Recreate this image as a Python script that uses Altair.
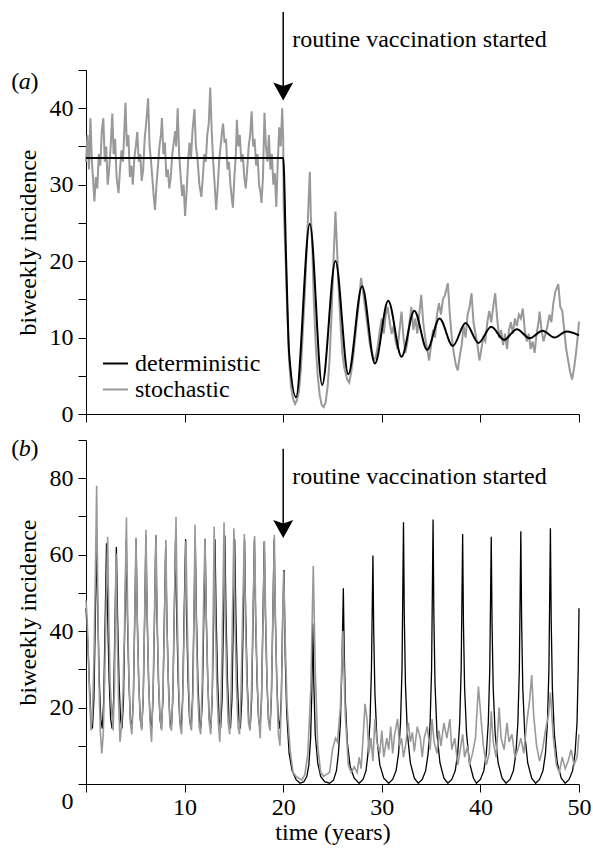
import altair as alt
import pandas as pd

FONT = "Liberation Serif"
FS = 24
PW, PH = 493, 344

X_TICKS = [0, 10, 20, 30, 40, 50]
YA_TICKS = [0, 5, 10, 15, 20, 25, 30, 35, 40, 45]
YB_TICKS = [0, 10, 20, 30, 40, 50, 60, 70, 80, 90]
SERIES = ["deterministic", "stochastic"]
COLORS = ["#000000", "#999999"]
VACC_YEAR = 20
ANNOT = "routine vaccination started"

# panel (a) deterministic (time, biweekly incidence)
A_DET = [(0, 33.5), (10, 33.5), (20, 33.5), (20.3, 20), (20.6, 8), (21.3, 2.2), (22.7, 24.9),
         (23.95, 3.8), (25.3, 20.0), (26.6, 5.2), (28.0, 16.7), (29.3, 6.6), (30.65, 14.8),
         (32.0, 7.5), (33.3, 13.5), (34.6, 8.4), (35.85, 12.5), (37.2, 8.9), (38.5, 11.9),
         (39.8, 9.3), (41.1, 11.4), (42.4, 9.7), (43.7, 11.1), (45.0, 9.9), (46.3, 10.9),
         (47.5, 10.0), (48.75, 10.8), (50, 10.3)]

# panel (a) stochastic
A_STO = [(0.0, 33), (0.15, 36.5), (0.3, 32), (0.45, 38.7), (0.6, 33), (0.75, 30), (0.85, 27.8),
         (1.0, 31), (1.15, 29.5), (1.3, 34), (1.45, 32.5), (1.6, 37), (1.76, 38.7), (1.9, 33),
         (2.05, 35), (2.2, 30), (2.35, 32), (2.5, 35), (2.67, 39.3), (2.8, 34), (2.95, 36),
         (3.1, 31), (3.3, 28.9), (3.45, 32), (3.6, 34.5), (3.75, 33), (3.9, 37.5), (4.0, 40.7),
         (4.15, 35), (4.3, 36.5), (4.45, 31), (4.6, 32.5), (4.75, 30), (4.9, 33.5), (5.05, 35),
         (5.2, 36.9), (5.35, 33), (5.5, 34), (5.65, 30.5), (5.8, 32), (5.95, 36), (6.1, 38),
         (6.3, 41.3), (6.45, 35), (6.6, 33), (6.75, 30.5), (6.9, 28), (7.0, 26.7), (7.15, 30),
         (7.3, 32.5), (7.45, 35), (7.6, 36.5), (7.7, 38.7), (7.85, 34), (8.0, 35.5), (8.15, 31),
         (8.3, 32), (8.45, 29.5), (8.6, 31), (8.75, 34), (8.9, 35.5), (9.05, 37), (9.15, 35),
         (9.3, 40), (9.45, 34), (9.6, 31), (9.75, 28.5), (9.9, 30), (10.05, 25.9), (10.2, 29),
         (10.35, 33), (10.5, 35.5), (10.65, 33.5), (10.8, 37), (11.0, 39.9), (11.15, 35),
         (11.3, 33.5), (11.5, 30), (11.7, 28.4), (11.85, 31), (12.0, 34), (12.15, 33),
         (12.3, 36.5), (12.45, 38), (12.6, 42.7), (12.75, 37), (12.9, 33), (13.05, 30),
         (13.2, 26.7), (13.35, 29.5), (13.5, 33), (13.65, 35), (13.8, 37), (13.9, 38),
         (14.05, 35.5), (14.2, 36), (14.35, 32), (14.5, 33), (14.65, 30), (14.8, 28), (14.9, 27),
         (15.05, 31), (15.2, 34), (15.3, 38.5), (15.45, 35), (15.6, 36.5), (15.75, 33),
         (15.9, 34), (16.05, 31), (16.2, 29.5), (16.35, 32), (16.5, 35), (16.65, 36.5),
         (16.8, 39.6), (16.95, 35), (17.1, 36), (17.25, 32.5), (17.4, 34), (17.55, 30),
         (17.7, 29), (17.8, 27.6), (17.95, 31), (18.1, 39.4), (18.25, 35), (18.4, 33),
         (18.55, 36.5), (18.7, 32), (18.85, 34), (19.0, 30), (19.15, 31.5), (19.3, 27.1),
         (19.45, 33), (19.6, 37.5), (19.75, 35), (19.9, 40), (20.0, 36),
         (20.05, 27), (20.2, 22), (20.4, 14), (20.6, 7), (20.8, 3.5), (21.0, 2), (21.2, 1.3),
         (21.4, 1.8), (21.6, 3), (21.8, 6), (22.0, 11), (22.2, 16), (22.4, 22), (22.55, 27),
         (22.7, 31.7), (22.8, 26), (22.95, 22), (23.1, 15), (23.3, 9), (23.5, 5), (23.7, 2.5),
         (23.9, 1.2), (24.1, 0.9), (24.3, 1.5), (24.5, 3.5), (24.7, 7), (24.9, 13), (25.1, 20),
         (25.3, 26.5), (25.45, 22), (25.6, 17), (25.8, 12), (26.0, 8), (26.2, 6), (26.5, 4.5),
         (26.7, 4.1), (26.9, 5.5), (27.1, 7.5), (27.3, 10), (27.5, 12.5), (27.7, 15),
         (27.9, 17.8), (28.05, 16.5), (28.2, 15), (28.4, 13), (28.6, 11), (28.8, 9), (29.0, 8),
         (29.2, 7), (29.4, 7.5), (29.6, 9), (29.8, 11), (30.0, 12.5), (30.2, 10.5), (30.4, 13),
         (30.6, 14), (30.8, 12), (31.0, 10.5), (31.2, 11.5), (31.4, 9.5), (31.6, 8.5),
         (31.8, 11), (32.0, 13.4), (32.2, 10), (32.4, 8), (32.6, 9.5), (32.8, 12), (33.0, 14),
         (33.2, 11), (33.4, 12.5), (33.6, 10.5), (33.8, 13), (34.0, 15.6), (34.2, 12),
         (34.4, 10), (34.6, 8.5), (34.8, 7), (35.0, 9), (35.2, 11), (35.4, 10), (35.6, 13),
         (35.8, 14.5), (36.0, 13), (36.2, 15), (36.4, 15.5), (36.7, 17.1), (36.9, 13),
         (37.1, 10), (37.3, 8), (37.5, 6.5), (37.7, 5.7), (37.9, 7.5), (38.1, 9), (38.3, 11.5),
         (38.5, 10), (38.7, 13), (38.9, 14), (39.1, 15.8), (39.3, 12), (39.5, 10.5), (39.7, 9),
         (39.9, 7), (40.1, 8.5), (40.3, 10), (40.5, 9.5), (40.7, 12), (40.9, 13.5), (41.1, 12),
         (41.3, 14), (41.5, 15.8), (41.7, 12.5), (41.9, 10), (42.1, 11), (42.3, 9), (42.5, 10.5),
         (42.7, 8.5), (42.9, 11), (43.1, 12), (43.3, 10.5), (43.5, 12.5), (43.7, 11.5),
         (43.9, 13), (44.1, 12.5), (44.3, 13.8), (44.5, 11), (44.7, 9.5), (44.9, 10.5),
         (45.1, 8.5), (45.3, 9.5), (45.5, 8), (45.7, 10.5), (45.9, 12), (46.0, 13.4), (46.2, 11),
         (46.4, 9.5), (46.6, 10.5), (46.8, 11.5), (47.0, 13), (47.2, 12), (47.4, 14.5),
         (47.6, 16), (47.9, 17.0), (48.1, 14), (48.3, 13.5), (48.5, 11), (48.7, 8.5), (48.9, 7),
         (49.1, 5.5), (49.3, 4.5), (49.5, 6), (49.7, 8), (49.9, 10.5), (50.0, 12.1)]

# panel (b) deterministic
B_DET = [(0.0, 46), (0.2, 36), (0.35, 26), (0.5, 17), (0.65, 14.5), (0.8, 22), (0.95, 44),
         (1.08, 64), (1.2, 44), (1.35, 27), (1.5, 17), (1.65, 14.5), (1.8, 22), (1.95, 44),
         (2.08, 63), (2.2, 44), (2.35, 27), (2.5, 17), (2.65, 14.5), (2.8, 22), (2.95, 44),
         (3.08, 62), (3.2, 44), (3.35, 27), (3.5, 17), (3.65, 14.5), (3.8, 22), (3.95, 44),
         (4.08, 64), (4.2, 44), (4.35, 27), (4.5, 17), (4.65, 14.5), (4.8, 22), (4.95, 44),
         (5.08, 64), (5.2, 44), (5.35, 27), (5.5, 17), (5.65, 14.5), (5.8, 22), (5.95, 44),
         (6.08, 65), (6.2, 44), (6.35, 27), (6.5, 17), (6.65, 14.5), (6.8, 22), (6.95, 44),
         (7.08, 65), (7.2, 44), (7.35, 27), (7.5, 17), (7.65, 14.5), (7.8, 22), (7.95, 44),
         (8.08, 62), (8.2, 44), (8.35, 27), (8.5, 17), (8.65, 14.5), (8.8, 22), (8.95, 44),
         (9.08, 64), (9.2, 44), (9.35, 27), (9.5, 17), (9.65, 14.5), (9.8, 22), (9.95, 44),
         (10.1, 64), (10.2, 44), (10.35, 27), (10.5, 17), (10.65, 14.5), (10.8, 22), (10.95, 44),
         (11.08, 64), (11.2, 44), (11.35, 27), (11.5, 17), (11.65, 14.5), (11.8, 22), (11.95, 44),
         (12.08, 64), (12.2, 44), (12.35, 27), (12.5, 17), (12.65, 14.5), (12.8, 22), (12.95, 44),
         (13.08, 64), (13.2, 44), (13.35, 27), (13.5, 17), (13.65, 14.5), (13.8, 22), (13.95, 44),
         (14.08, 65), (14.2, 44), (14.35, 27), (14.5, 17), (14.65, 14.5), (14.8, 22), (14.95, 44),
         (15.08, 64), (15.2, 44), (15.35, 27), (15.5, 17), (15.65, 14.5), (15.8, 22), (15.95, 44),
         (16.08, 64), (16.2, 44), (16.35, 27), (16.5, 17), (16.65, 14.5), (16.8, 22), (16.95, 44),
         (17.08, 64), (17.2, 44), (17.35, 27), (17.5, 17), (17.65, 14.5), (17.8, 22), (17.95, 44),
         (18.08, 63.5), (18.2, 44), (18.35, 27), (18.5, 17), (18.65, 14.5), (18.8, 22), (18.95, 44),
         (19.08, 64), (19.2, 44), (19.35, 27), (19.5, 17), (19.65, 14.5), (19.8, 22), (19.95, 44),
         (20.08, 56), (20.2, 34), (20.35, 19), (20.6, 8), (20.9, 3.5), (21.3, 1.2), (21.7, 0.2),
         (22.1, 0.6), (22.4, 2), (22.6, 5), (22.78, 12), (22.9, 24), (23.0, 42), (23.1, 27),
         (23.25, 13), (23.5, 5.5), (23.8, 2), (24.2, 0.6), (24.7, 0.2), (25.1, 1), (25.4, 3.5),
         (25.6, 8), (25.8, 16), (25.95, 30), (26.1, 51.2), (26.18, 36), (26.3, 22), (26.5, 11),
         (26.8, 4.5), (27.2, 1.5), (27.7, 0.2),
         (28.1, 1.2), (28.4, 3.5), (28.6, 8), (28.8, 16), (28.95, 30), (29.1, 59.8), (29.18, 40),
         (29.3, 24), (29.5, 12), (29.8, 5), (30.2, 1.5), (30.7, 0.2),
         (31.1, 1.2), (31.45, 3.5), (31.7, 8), (31.9, 16), (32.05, 30), (32.2, 68.5), (32.28, 44),
         (32.4, 26), (32.6, 13), (32.9, 5.5), (33.3, 1.5), (33.7, 0.2),
         (34.1, 1.2), (34.45, 3.5), (34.7, 8), (34.9, 16), (35.05, 30), (35.2, 69.2), (35.28, 44),
         (35.4, 26), (35.6, 13), (35.9, 5.5), (36.3, 1.5), (36.7, 0.2),
         (37.1, 1.2), (37.45, 3.5), (37.7, 8), (37.9, 16), (38.05, 30), (38.2, 65.4), (38.28, 42),
         (38.4, 25), (38.6, 13), (38.9, 5.5), (39.3, 1.5), (39.6, 0.2),
         (40.0, 1.2), (40.35, 3.5), (40.6, 8), (40.8, 16), (40.95, 30), (41.1, 64.7), (41.18, 42),
         (41.3, 25), (41.5, 13), (41.8, 5.5), (42.2, 1.5), (42.6, 0.2),
         (43.0, 1.2), (43.35, 3.5), (43.6, 8), (43.8, 16), (43.95, 30), (44.1, 66.1), (44.18, 43),
         (44.3, 25), (44.5, 13), (44.8, 5.5), (45.2, 1.5), (45.6, 0.2),
         (46.0, 1.2), (46.35, 3.5), (46.6, 8), (46.8, 16), (46.95, 30), (47.1, 66.9), (47.18, 43),
         (47.3, 25), (47.5, 13), (47.8, 5.5), (48.2, 1.5), (48.6, 0.2),
         (49.0, 1.2), (49.35, 3.5), (49.6, 8), (49.8, 16), (49.92, 30), (50.0, 46)]

# panel (b) stochastic
B_STO = [(0.0, 48), (0.1, 44), (0.2, 37), (0.35, 24), (0.5, 14), (0.65, 18), (0.8, 32),
         (0.95, 55), (1.08, 78), (1.2, 48), (1.32, 26), (1.45, 14), (1.6, 8), (1.75, 13),
         (1.9, 28), (2.05, 48), (2.2, 64.7), (2.32, 42), (2.45, 26), (2.6, 19), (2.75, 14),
         (2.9, 26), (3.04, 60.4), (3.15, 42), (3.3, 22), (3.45, 11), (3.6, 15), (3.75, 24),
         (3.9, 40), (4.1, 69.7), (4.22, 46), (4.35, 28), (4.5, 16), (4.65, 13), (4.8, 22),
         (4.95, 45), (5.07, 64.5), (5.2, 42), (5.35, 26), (5.5, 17), (5.65, 14), (5.8, 23),
         (5.95, 44), (6.08, 66.5), (6.2, 45), (6.35, 27), (6.5, 16), (6.65, 11), (6.8, 24),
         (6.95, 45), (7.1, 65.2), (7.22, 43), (7.37, 26), (7.52, 17), (7.67, 14), (7.82, 26),
         (7.97, 44), (8.1, 63.9), (8.22, 40), (8.37, 25), (8.52, 15), (8.67, 14), (8.82, 25),
         (8.97, 48), (9.13, 69.9), (9.25, 45), (9.4, 26), (9.55, 15), (9.7, 13), (9.85, 27),
         (10.0, 46), (10.14, 63.6), (10.26, 44), (10.4, 27), (10.55, 16), (10.7, 14),
         (10.85, 24), (10.95, 45), (11.06, 67.8), (11.18, 42), (11.33, 24), (11.48, 15),
         (11.63, 13), (11.78, 26), (11.93, 48), (12.07, 64.2), (12.2, 43), (12.35, 27),
         (12.5, 16), (12.65, 13), (12.8, 24), (12.9, 45), (13.0, 67.3), (13.12, 44),
         (13.27, 26), (13.42, 16), (13.57, 11), (13.72, 24), (13.87, 46), (14.0, 68.5),
         (14.12, 45), (14.27, 27), (14.42, 16), (14.57, 13), (14.72, 25), (14.87, 46),
         (15.0, 66.9), (15.12, 42), (15.27, 25), (15.42, 15), (15.57, 13), (15.72, 24),
         (15.9, 46), (16.06, 65.4), (16.18, 42), (16.33, 26), (16.48, 16), (16.63, 14),
         (16.78, 24), (16.95, 46), (17.1, 64.9), (17.22, 43), (17.37, 27), (17.52, 17),
         (17.67, 12), (17.82, 25), (17.97, 45), (18.1, 63.6), (18.22, 44), (18.37, 26),
         (18.52, 16), (18.67, 14), (18.82, 26), (18.97, 46), (19.1, 65.2), (19.22, 42),
         (19.37, 24), (19.52, 13), (19.67, 10), (19.82, 22), (19.95, 44), (20.05, 55.6),
         (20.2, 38), (20.4, 20), (20.7, 9), (21.0, 3), (21.3, 2), (21.6, 1.5), (21.9, 1),
         (22.2, 2.5), (22.5, 8), (22.8, 25), (23.05, 57), (23.25, 30), (23.5, 10), (23.8, 3),
         (24.1, 2), (24.4, 2.5), (24.7, 3), (25.0, 9), (25.3, 12), (25.5, 11), (25.8, 20),
         (26.05, 40), (26.3, 18), (26.6, 5), (26.9, 3), (27.2, 4.5), (27.5, 3), (27.7, 7),
         (27.9, 4), (28.1, 12), (28.3, 21), (28.5, 17), (28.7, 8), (28.9, 12), (29.1, 6),
         (29.3, 17), (29.5, 11), (29.8, 8), (30.0, 14), (30.2, 7), (30.5, 12), (30.7, 9),
         (30.9, 15), (31.1, 8), (31.3, 13), (31.6, 17), (31.8, 10), (32.0, 12), (32.2, 7),
         (32.4, 10), (32.7, 16), (32.9, 11), (33.1, 13.5), (33.3, 8.5), (33.6, 15), (33.9, 12),
         (34.1, 7), (34.3, 12), (34.6, 15), (34.9, 9), (35.1, 17), (35.3, 11), (35.6, 8),
         (35.8, 14), (36.0, 10), (36.3, 16), (36.6, 12), (36.9, 17), (37.1, 9), (37.4, 12),
         (37.7, 5), (37.9, 8), (38.2, 13), (38.4, 7), (38.7, 10), (38.9, 5), (39.2, 8),
         (39.5, 12), (39.8, 25.5), (40.1, 16), (40.3, 10), (40.6, 5), (40.9, 8), (41.1, 19),
         (41.3, 11), (41.6, 7), (41.9, 20), (42.1, 12), (42.4, 9), (42.7, 16), (42.9, 11),
         (43.2, 13), (43.5, 7), (43.8, 9), (44.1, 12), (44.4, 8), (44.7, 16), (45.0, 22),
         (45.2, 28.5), (45.4, 18), (45.7, 10), (46.0, 6), (46.3, 9), (46.6, 14), (46.9, 18),
         (47.1, 24), (47.4, 12), (47.7, 5), (48.0, 3), (48.3, 7), (48.6, 4), (48.9, 6),
         (49.2, 9), (49.5, 5), (49.8, 7), (50.0, 13)]

# annotation anchors (data units)
A_ARROW = {"top": 52.6, "head": 42.2, "text": 48.9, "label": 43.4}
B_ARROW = {"top": 87.7, "head": 66.7, "text": 80.4, "label": 87.7}
LABEL_X = -6.2


def frame(pairs, name):
    return pd.DataFrame({"t": [p[0] for p in pairs], "v": [p[1] for p in pairs], "series": name})


xs = alt.Scale(domain=[0, 50], nice=False, zero=False)
color_scale = alt.Scale(domain=SERIES, range=COLORS)
ARROW_PATH = "M0,0.9L-1,-0.9L0,-0.55L1,-0.9Z"


def panel(det, sto, ydom, yticks, ylabel_step, xaxis, letter, arrow, legend, gray_on_top,
          det_width, det_interp, gray_width):
    ys = alt.Scale(domain=ydom, nice=False, zero=True)
    yaxis = alt.Axis(
        values=yticks,
        labelExpr=f"datum.value % {ylabel_step} === 0 ? datum.label : ''",
        title="biweekly incidence",
        tickSize=8, labelPadding=5, titlePadding=9, labelFlush=False,
        labelOffset=({"condition": {"test": "datum.value === 0", "value": 17}, "value": 0}
                     if letter == "b" else 0),
    )
    X = alt.X("t:Q", scale=xs, axis=xaxis)
    Y = alt.Y("v:Q", scale=ys, axis=yaxis)
    C = alt.Color("series:N", scale=color_scale, legend=legend)

    gray = alt.Chart(frame(sto, "stochastic")).mark_line(strokeWidth=gray_width).encode(
        x=X, y=Y, color=C)
    black = alt.Chart(frame(det, "deterministic")).mark_line(
        strokeWidth=det_width, interpolate=det_interp).encode(x=X, y=Y, color=C)
    lines = [black, gray] if gray_on_top else [gray, black]

    ann = pd.DataFrame({"t": [VACC_YEAR], "v": [arrow["top"]], "v2": [arrow["head"]]})
    shaft = alt.Chart(ann).mark_rule(color="black", strokeWidth=1.5).encode(
        x=X, y=Y, y2=alt.Y2("v2:Q"))
    head_df = pd.DataFrame({"t": [VACC_YEAR], "v": [arrow["head"]]})
    head = alt.Chart(head_df).mark_point(
        shape=ARROW_PATH, size=400, filled=True, color="black", opacity=1, strokeWidth=0
    ).encode(x=X, y=Y)
    txt_df = pd.DataFrame({"t": [VACC_YEAR], "v": [arrow["text"]]})
    txt = alt.Chart(txt_df).mark_text(
        text=ANNOT, align="left", baseline="middle", dx=9, font=FONT, fontSize=FS, color="black"
    ).encode(x=X, y=Y)

    lab_df = pd.DataFrame({"t": [LABEL_X], "v": [arrow["label"]]})
    lp = alt.Chart(lab_df).mark_text(text="(", dx=-9.6, font=FONT, fontSize=FS,
                                       baseline="middle", color="black").encode(x=X, y=Y)
    lm = alt.Chart(lab_df).mark_text(text=letter, font=FONT, fontSize=FS, fontStyle="italic",
                                       baseline="middle", color="black").encode(x=X, y=Y)
    rp = alt.Chart(lab_df).mark_text(text=")", dx=9.6, font=FONT, fontSize=FS,
                                       baseline="middle", color="black").encode(x=X, y=Y)

    return alt.layer(*lines, shaft, head, txt, lp, lm, rp).properties(width=PW, height=PH)


xaxis_a = alt.Axis(values=X_TICKS, labels=False, title=None, tickSize=8)
xaxis_b = alt.Axis(values=X_TICKS, labelExpr="datum.value === 0 ? '' : datum.label",
                   title="time (years)", tickSize=8, labelPadding=3, titlePadding=1,
                   labelFlush=False)

legend_a = alt.Legend(orient="none", legendX=16, legendY=280, title=None, symbolType="stroke",
                      symbolSize=625, symbolStrokeWidth=2, labelFont=FONT, labelFontSize=FS,
                      labelOffset=6, rowPadding=0, padding=0, labelLimit=0, labelColor="black")

pa = panel(A_DET, A_STO, [0, 45], YA_TICKS, 10, xaxis_a, "a", A_ARROW, legend_a, False, 2,
           "monotone", 2.0)
pb = panel(B_DET, B_STO, [0, 90], YB_TICKS, 20, xaxis_b, "b", B_ARROW, None, True, 1.3,
           "linear", 1.6)

chart = alt.vconcat(pa, pb, spacing=10).resolve_scale(color="independent").resolve_legend(
    color="independent"
).properties(
    padding={"left": 11, "top": 11, "right": 0, "bottom": 5},
    background="white",
).configure_view(stroke=None).configure_axis(
    labelFont=FONT, titleFont=FONT, labelFontSize=FS, titleFontSize=FS,
    titleFontWeight="normal", labelColor="black", titleColor="black",
    domainColor="black", tickColor="black", domainWidth=1, tickWidth=1, grid=False,
)

chart.save("out.html", embed_options={"renderer": "svg", "actions": False})
